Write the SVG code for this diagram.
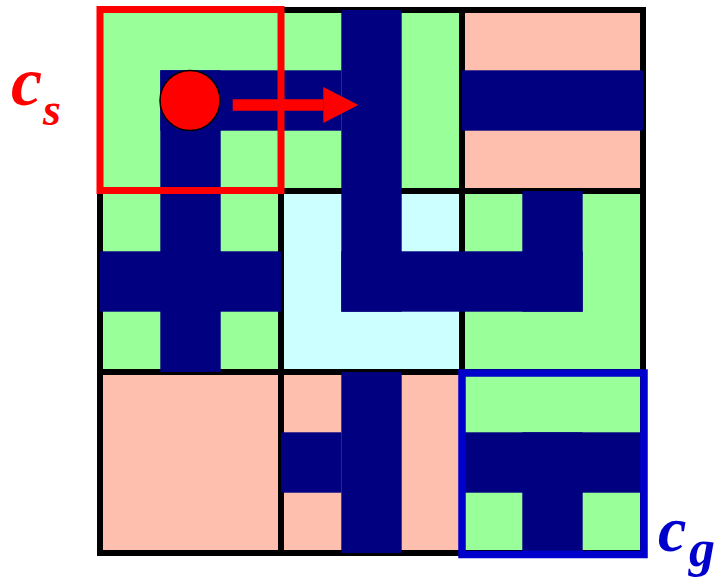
<svg xmlns="http://www.w3.org/2000/svg" width="716" height="582" viewBox="0 0 716 582">
<style>
.g{fill:#99FF99}
.p{fill:#FFBFAE}
.c{fill:#CCFFFF}
.n{fill:#000080}
.b{fill:none;stroke:#000;stroke-width:3}
.lbl{font-family:"Liberation Serif","Times New Roman",serif;font-style:italic;font-weight:bold}
</style>
<defs>
<marker id="ah" markerUnits="userSpaceOnUse" markerWidth="36" markerHeight="36" refX="0" refY="18" orient="auto" viewBox="0 0 36 36">
<polygon points="0,0 35,18 0,36" fill="#FF0000"/>
</marker>
</defs>
<rect x="100" y="10" width="543" height="543" fill="none" stroke="#000" stroke-width="6"/>
<g id="tile-0-0">
<rect class="g" x="100" y="10" width="181" height="181"/>
<rect class="b" x="101.5" y="11.5" width="178" height="178"/>
<rect class="n" x="160.3" y="70.3" width="120.7" height="60.4"/>
<rect class="n" x="160.3" y="70.3" width="60.4" height="120.7"/>
</g>
<g id="tile-1-0">
<rect class="g" x="281" y="10" width="181" height="181"/>
<rect class="b" x="282.5" y="11.5" width="178" height="178"/>
<rect class="n" x="341.3" y="10" width="60.4" height="181"/>
<rect class="n" x="281" y="70.3" width="60.4" height="60.4"/>
</g>
<g id="tile-2-0">
<rect class="p" x="462" y="10" width="181" height="181"/>
<rect class="b" x="463.5" y="11.5" width="178" height="178"/>
<rect class="n" x="462" y="70.3" width="181" height="60.4"/>
</g>
<g id="tile-0-1">
<rect class="g" x="100" y="191" width="181" height="181"/>
<rect class="b" x="101.5" y="192.5" width="178" height="178"/>
<rect class="n" x="160.3" y="191" width="60.4" height="181"/>
<rect class="n" x="100" y="251.3" width="181" height="60.4"/>
</g>
<g id="tile-1-1">
<rect class="c" x="281" y="191" width="181" height="181"/>
<rect class="b" x="282.5" y="192.5" width="178" height="178"/>
<rect class="n" x="341.3" y="191" width="60.4" height="120.7"/>
<rect class="n" x="341.3" y="251.3" width="120.7" height="60.4"/>
</g>
<g id="tile-2-1">
<rect class="g" x="462" y="191" width="181" height="181"/>
<rect class="b" x="463.5" y="192.5" width="178" height="178"/>
<rect class="n" x="522.3" y="191" width="60.4" height="120.7"/>
<rect class="n" x="462" y="251.3" width="120.7" height="60.4"/>
</g>
<g id="tile-0-2">
<rect class="p" x="100" y="372" width="181" height="181"/>
<rect class="b" x="101.5" y="373.5" width="178" height="178"/>
</g>
<g id="tile-1-2">
<rect class="p" x="281" y="372" width="181" height="181"/>
<rect class="b" x="282.5" y="373.5" width="178" height="178"/>
<rect class="n" x="341.3" y="372" width="60.4" height="181"/>
<rect class="n" x="281" y="432.3" width="60.4" height="60.4"/>
</g>
<g id="tile-2-2">
<rect class="g" x="462" y="372" width="181" height="181"/>
<rect class="b" x="463.5" y="373.5" width="178" height="178"/>
<rect class="n" x="462" y="432.3" width="181" height="60.4"/>
<rect class="n" x="522.3" y="432.3" width="60.4" height="120.7"/>
</g>
<g id="start">
<rect x="100" y="9.5" width="181" height="181" fill="none" stroke="#FF0000" stroke-width="7"/>
<circle cx="190" cy="100.5" r="30" fill="#FF0000" stroke="#000" stroke-width="1.5"/>
<text class="lbl" x="11" y="105" font-size="70" fill="#FF0000">c</text>
<text class="lbl" x="43" y="125" font-size="46" fill="#FF0000">s</text>
</g>
<g id="goal">
<rect x="462" y="373" width="182" height="181.5" fill="none" stroke="#0000CC" stroke-width="7.5"/>
<text class="lbl" x="658" y="551" font-size="64" fill="#0000CC">c</text>
<text class="lbl" x="689" y="566" font-size="52" fill="#0000CC">g</text>
</g>
<g id="connectors">
<line x1="232.7" y1="105" x2="323.3" y2="105" stroke="#FF0000" stroke-width="11.7" marker-end="url(#ah)"/>
</g>
</svg>
